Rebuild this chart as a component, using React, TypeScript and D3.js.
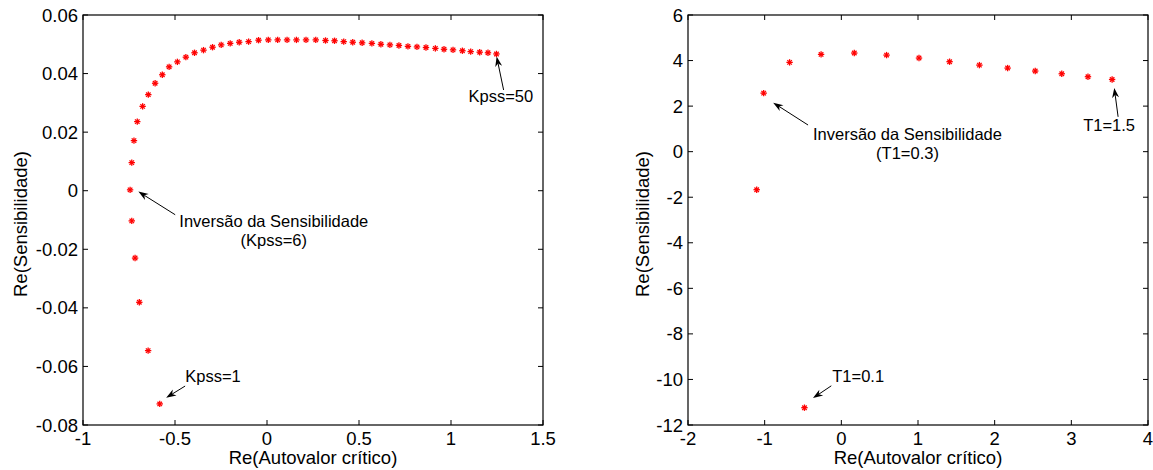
import React from "react";
import * as d3 from "d3";

// Kpss = 1..50
const kpssX = [
  -0.583, -0.646, -0.694, -0.717, -0.735, -0.744, -0.735, -0.723,
  -0.705, -0.676, -0.645, -0.608, -0.569, -0.532, -0.487, -0.441, -0.394, -0.345,
  -0.296, -0.249, -0.2, -0.151, -0.1, -0.046, 0.007, 0.058, 0.109, 0.16,
  0.212, 0.265, 0.318, 0.367, 0.417, 0.466, 0.517, 0.57, 0.619, 0.668,
  0.717, 0.766, 0.815, 0.864, 0.915, 0.962, 1.011, 1.062, 1.107, 1.156,
  1.201, 1.247,
];
const kpssY = [
  -0.0728, -0.0546, -0.0381, -0.023, -0.0103, 0.0003, 0.0096, 0.0171,
  0.0236, 0.0288, 0.0328, 0.0367, 0.0396, 0.0423, 0.044, 0.0456, 0.0471, 0.048,
  0.049, 0.0498, 0.0503, 0.0507, 0.0509, 0.0514, 0.0515, 0.0515, 0.0515, 0.0515,
  0.0515, 0.0515, 0.0513, 0.0512, 0.0509, 0.0507, 0.0505, 0.0503, 0.05, 0.0498,
  0.0496, 0.0493, 0.0491, 0.0489, 0.0486, 0.0483, 0.0481, 0.0478, 0.0475, 0.0473,
  0.0471, 0.0467,
];

// T1 = 0.1..1.5
const t1X = [-0.481, -1.104, -1.013, -0.675, -0.264, 0.169, 0.59, 1.013, 1.412, 1.801, 2.169, 2.529, 2.875, 3.217, 3.532];
const t1Y = [-11.24, -1.67, 2.57, 3.92, 4.27, 4.33, 4.24, 4.11, 3.95, 3.8, 3.67, 3.54, 3.42, 3.29, 3.17];

const leftXTicks = [-1, -0.5, 0, 0.5, 1, 1.5];
const leftXLabels = ["-1", "-0.5", "0", "0.5", "1", "1.5"];
const leftYTicks = [-0.08, -0.06, -0.04, -0.02, 0, 0.02, 0.04, 0.06];
const leftYLabels = ["-0.08", "-0.06", "-0.04", "-0.02", "0", "0.02", "0.04", "0.06"];

const rightXTicks = [-2, -1, 0, 1, 2, 3, 4];
const rightXLabels = ["-2", "-1", "0", "1", "2", "3", "4"];
const rightYTicks = [-12, -10, -8, -6, -4, -2, 0, 2, 4, 6];
const rightYLabels = ["-12", "-10", "-8", "-6", "-4", "-2", "0", "2", "4", "6"];

const xTitle = "Re(Autovalor crítico)";
const yTitle = "Re(Sensibilidade)";

// annotations: text lines at (tx, ty) in data units, arrow from (ax0, ay0) to (ax1, ay1)
const leftNotes = [
  { lines: ["Kpss=50"], tx: 1.271, ty: 0.0302, anchor: "middle", ax0: 1.286, ay0: 0.0344, ax1: 1.248, ay1: 0.0458 },
  { lines: ["Inversão da Sensibilidade", "(Kpss=6)"], tx: 0.037, ty: -0.0124, anchor: "middle", ax0: -0.499, ay0: -0.0082, ax1: -0.699, ay1: -0.0003 },
  { lines: ["Kpss=1"], tx: -0.444, ty: -0.0653, anchor: "start", ax0: -0.445, ay0: -0.0667, ax1: -0.548, ay1: -0.0707 },
];
const rightNotes = [
  { lines: ["Inversão da Sensibilidade", "(T1=0.3)"], tx: 0.863, ty: 0.52, anchor: "middle", ax0: -0.434, ay0: 1.17, ax1: -0.889, ay1: 2.15 },
  { lines: ["T1=1.5"], tx: 3.493, ty: 0.91, anchor: "middle", ax0: 3.61, ay0: 1.53, ax1: 3.56, ay1: 2.8 },
  { lines: ["T1=0.1"], tx: -0.118, ty: -10.11, anchor: "start", ax0: -0.131, ay0: -10.28, ax1: -0.37, ay1: -10.82 },
];

const font = "Arial, 'Liberation Sans', sans-serif";

function Arrow({ x0, y0, x1, y1 }) {
  const ang = Math.atan2(y1 - y0, x1 - x0);
  const len = 10, half = 3.5, back = 7;
  const ux = Math.cos(ang), uy = Math.sin(ang);
  const px = -uy, py = ux;
  const bx = x1 - ux * len, by = y1 - uy * len;
  const nx = x1 - ux * back, ny = y1 - uy * back;
  const head = `M${x1},${y1}L${bx + px * half},${by + py * half}L${nx},${ny}L${bx - px * half},${by - py * half}Z`;
  return (
    <g>
      <line x1={x0} y1={y0} x2={nx} y2={ny} stroke="#000" strokeWidth={1} />
      <path d={head} fill="#000" />
    </g>
  );
}

function Panel({ left, xs, ys, xDomain, yDomain, xTicks, xLabels, yTicks, yLabels, notes, yTitleX }) {
  const x0 = left, x1 = left + 460, y0 = 15, y1 = 425;
  const x = d3.scaleLinear().domain(xDomain).range([x0, x1]);
  const y = d3.scaleLinear().domain(yDomain).range([y1, y0]);
  const tk = 5;
  const pts = xs.map((v, i) => [x(v), y(ys[i])]);
  const s = 3.2;
  return (
    <g fontFamily={font}>
      <rect x={x0} y={y0} width={x1 - x0} height={y1 - y0} fill="none" stroke="#000" strokeWidth={1.2} />
      {xTicks.map((t, i) => (
        <g key={"xt" + i}>
          <line x1={x(t)} x2={x(t)} y1={y1} y2={y1 - tk} stroke="#000" />
          <line x1={x(t)} x2={x(t)} y1={y0} y2={y0 + tk} stroke="#000" />
          <text x={x(t)} y={y1 + 20} textAnchor="middle" fontSize={18.5}>{xLabels[i]}</text>
        </g>
      ))}
      {yTicks.map((t, i) => (
        <g key={"yt" + i}>
          <line x1={x0} x2={x0 + tk} y1={y(t)} y2={y(t)} stroke="#000" />
          <line x1={x1} x2={x1 - tk} y1={y(t)} y2={y(t)} stroke="#000" />
          <text x={x0 - 5} y={y(t) + 6.5} textAnchor="end" fontSize={18.5}>{yLabels[i]}</text>
        </g>
      ))}
      <text x={(x0 + x1) / 2} y={464} textAnchor="middle" fontSize={18.5}>{xTitle}</text>
      <text transform={`translate(${yTitleX},224) rotate(-90)`} textAnchor="middle" fontSize={18.5}>{yTitle}</text>
      {pts.map(([px, py], i) => (
        <g key={"p" + i} stroke="#ff0000" strokeWidth={1.3}>
          <line x1={px - s} x2={px + s} y1={py} y2={py} />
          <line x1={px} x2={px} y1={py - s} y2={py + s} />
          <line x1={px - s * 0.7} x2={px + s * 0.7} y1={py - s * 0.7} y2={py + s * 0.7} />
          <line x1={px - s * 0.7} x2={px + s * 0.7} y1={py + s * 0.7} y2={py - s * 0.7} />
        </g>
      ))}
      {notes.map((n, i) => (
        <g key={"n" + i}>
          <Arrow x0={x(n.ax0)} y0={y(n.ay0)} x1={x(n.ax1)} y1={y(n.ay1)} />
          {n.lines.map((l, j) => (
            <text key={j} x={x(n.tx)} y={y(n.ty) + j * 19} textAnchor={n.anchor} fontSize={16.5}>{l}</text>
          ))}
        </g>
      ))}
    </g>
  );
}

export default function App() {
  return (
    <svg width={1153} height={470} style={{ position: "absolute", left: 0, top: 0, background: "#fff" }}>
      <rect width={1153} height={470} fill="#fff" />
      <Panel left={83} xs={kpssX} ys={kpssY} xDomain={[-1, 1.5]} yDomain={[-0.08, 0.06]}
        xTicks={leftXTicks} xLabels={leftXLabels} yTicks={leftYTicks} yLabels={leftYLabels}
        notes={leftNotes} yTitleX={27} />
      <Panel left={688} xs={t1X} ys={t1Y} xDomain={[-2, 4]} yDomain={[-12, 6]}
        xTicks={rightXTicks} xLabels={rightXLabels} yTicks={rightYTicks} yLabels={rightYLabels}
        notes={rightNotes} yTitleX={649} />
    </svg>
  );
}
